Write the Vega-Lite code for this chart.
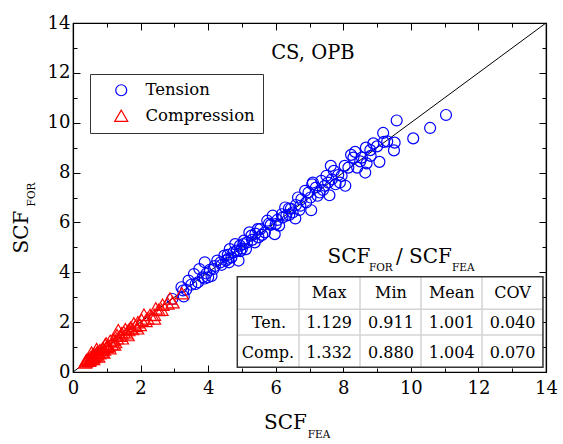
{
  "$schema": "https://vega.github.io/schema/vega-lite/v6.json",
  "width": 473,
  "height": 349,
  "autosize": {"type": "none"},
  "padding": {"left": 73, "top": 23, "right": 17, "bottom": 72},
  "background": "#ffffff",
  "config": {
    "view": {"stroke": "#000000", "strokeWidth": 1.2},
    "axis": {
      "grid": false,
      "domainColor": "#000000",
      "domainWidth": 1.2,
      "tickColor": "#000000",
      "tickWidth": 1,
      "labelFont": "DejaVu Serif",
      "labelFontSize": 18,
      "labelColor": "#000000",
      "labelFlush": false,
      "labelOverlap": false,
      "labelBound": false,
      "titleFont": "DejaVu Serif",
      "titleFontWeight": "normal",
      "titleColor": "#000000",
      "titleAlign": "center",
      "titleBaseline": "alphabetic"
    },
    "legend": {
      "labelFont": "DejaVu Serif",
      "labelFontSize": 16.5,
      "labelColor": "#000000"
    }
  },
  "datasets": {
    "pts": [
      {"scf_fea": 11.04, "scf_for": 10.31, "type": "Tension"},
      {"scf_fea": 10.57, "scf_for": 9.79, "type": "Tension"},
      {"scf_fea": 10.07, "scf_for": 9.37, "type": "Tension"},
      {"scf_fea": 9.58, "scf_for": 10.09, "type": "Tension"},
      {"scf_fea": 9.52, "scf_for": 9.2, "type": "Tension"},
      {"scf_fea": 9.5, "scf_for": 8.89, "type": "Tension"},
      {"scf_fea": 9.18, "scf_for": 9.59, "type": "Tension"},
      {"scf_fea": 9.2, "scf_for": 9.23, "type": "Tension"},
      {"scf_fea": 9.07, "scf_for": 8.43, "type": "Tension"},
      {"scf_fea": 8.89, "scf_for": 9.17, "type": "Tension"},
      {"scf_fea": 8.81, "scf_for": 8.67, "type": "Tension"},
      {"scf_fea": 8.67, "scf_for": 9.0, "type": "Tension"},
      {"scf_fea": 8.65, "scf_for": 8.0, "type": "Tension"},
      {"scf_fea": 8.69, "scf_for": 8.37, "type": "Tension"},
      {"scf_fea": 8.55, "scf_for": 8.6, "type": "Tension"},
      {"scf_fea": 8.41, "scf_for": 8.2, "type": "Tension"},
      {"scf_fea": 8.35, "scf_for": 8.83, "type": "Tension"},
      {"scf_fea": 8.23, "scf_for": 8.71, "type": "Tension"},
      {"scf_fea": 8.06, "scf_for": 7.47, "type": "Tension"},
      {"scf_fea": 8.04, "scf_for": 8.27, "type": "Tension"},
      {"scf_fea": 7.95, "scf_for": 7.87, "type": "Tension"},
      {"scf_fea": 7.77, "scf_for": 7.53, "type": "Tension"},
      {"scf_fea": 7.72, "scf_for": 8.07, "type": "Tension"},
      {"scf_fea": 7.63, "scf_for": 8.27, "type": "Tension"},
      {"scf_fea": 7.66, "scf_for": 7.73, "type": "Tension"},
      {"scf_fea": 7.59, "scf_for": 7.09, "type": "Tension"},
      {"scf_fea": 7.45, "scf_for": 7.47, "type": "Tension"},
      {"scf_fea": 7.5, "scf_for": 7.87, "type": "Tension"},
      {"scf_fea": 7.35, "scf_for": 7.67, "type": "Tension"},
      {"scf_fea": 7.24, "scf_for": 7.07, "type": "Tension"},
      {"scf_fea": 7.19, "scf_for": 7.4, "type": "Tension"},
      {"scf_fea": 7.08, "scf_for": 7.53, "type": "Tension"},
      {"scf_fea": 7.05, "scf_for": 6.49, "type": "Tension"},
      {"scf_fea": 7.03, "scf_for": 7.0, "type": "Tension"},
      {"scf_fea": 6.97, "scf_for": 7.2, "type": "Tension"},
      {"scf_fea": 6.87, "scf_for": 7.27, "type": "Tension"},
      {"scf_fea": 6.76, "scf_for": 6.93, "type": "Tension"},
      {"scf_fea": 6.73, "scf_for": 6.67, "type": "Tension"},
      {"scf_fea": 6.66, "scf_for": 7.0, "type": "Tension"},
      {"scf_fea": 6.58, "scf_for": 6.16, "type": "Tension"},
      {"scf_fea": 6.5, "scf_for": 6.4, "type": "Tension"},
      {"scf_fea": 6.39, "scf_for": 6.56, "type": "Tension"},
      {"scf_fea": 6.31, "scf_for": 6.27, "type": "Tension"},
      {"scf_fea": 6.28, "scf_for": 6.6, "type": "Tension"},
      {"scf_fea": 6.18, "scf_for": 6.33, "type": "Tension"},
      {"scf_fea": 6.1, "scf_for": 5.87, "type": "Tension"},
      {"scf_fea": 6.0, "scf_for": 5.93, "type": "Tension"},
      {"scf_fea": 5.97, "scf_for": 5.53, "type": "Tension"},
      {"scf_fea": 5.91, "scf_for": 6.27, "type": "Tension"},
      {"scf_fea": 5.75, "scf_for": 6.07, "type": "Tension"},
      {"scf_fea": 5.68, "scf_for": 5.6, "type": "Tension"},
      {"scf_fea": 5.54, "scf_for": 5.73, "type": "Tension"},
      {"scf_fea": 5.49, "scf_for": 5.4, "type": "Tension"},
      {"scf_fea": 5.47, "scf_for": 5.73, "type": "Tension"},
      {"scf_fea": 5.38, "scf_for": 5.2, "type": "Tension"},
      {"scf_fea": 5.28, "scf_for": 5.47, "type": "Tension"},
      {"scf_fea": 5.22, "scf_for": 5.6, "type": "Tension"},
      {"scf_fea": 5.12, "scf_for": 4.93, "type": "Tension"},
      {"scf_fea": 5.06, "scf_for": 5.27, "type": "Tension"},
      {"scf_fea": 5.04, "scf_for": 5.13, "type": "Tension"},
      {"scf_fea": 4.94, "scf_for": 5.07, "type": "Tension"},
      {"scf_fea": 4.9, "scf_for": 4.47, "type": "Tension"},
      {"scf_fea": 4.85, "scf_for": 4.87, "type": "Tension"},
      {"scf_fea": 4.8, "scf_for": 5.13, "type": "Tension"},
      {"scf_fea": 4.69, "scf_for": 4.6, "type": "Tension"},
      {"scf_fea": 4.64, "scf_for": 4.93, "type": "Tension"},
      {"scf_fea": 4.53, "scf_for": 4.47, "type": "Tension"},
      {"scf_fea": 4.48, "scf_for": 4.67, "type": "Tension"},
      {"scf_fea": 4.37, "scf_for": 4.4, "type": "Tension"},
      {"scf_fea": 4.27, "scf_for": 4.47, "type": "Tension"},
      {"scf_fea": 4.16, "scf_for": 4.13, "type": "Tension"},
      {"scf_fea": 4.0, "scf_for": 3.8, "type": "Tension"},
      {"scf_fea": 3.9, "scf_for": 4.4, "type": "Tension"},
      {"scf_fea": 3.84, "scf_for": 3.8, "type": "Tension"},
      {"scf_fea": 3.74, "scf_for": 4.13, "type": "Tension"},
      {"scf_fea": 3.63, "scf_for": 3.53, "type": "Tension"},
      {"scf_fea": 3.58, "scf_for": 3.93, "type": "Tension"},
      {"scf_fea": 3.42, "scf_for": 3.67, "type": "Tension"},
      {"scf_fea": 3.26, "scf_for": 3.27, "type": "Tension"},
      {"scf_fea": 3.21, "scf_for": 3.4, "type": "Tension"},
      {"scf_fea": 3.28, "scf_for": 3.03, "type": "Tension"},
      {"scf_fea": 2.94, "scf_for": 2.93, "type": "Tension"},
      {"scf_fea": 7.1, "scf_for": 7.6, "type": "Tension"},
      {"scf_fea": 7.3, "scf_for": 7.2, "type": "Tension"},
      {"scf_fea": 6.9, "scf_for": 6.8, "type": "Tension"},
      {"scf_fea": 6.6, "scf_for": 6.7, "type": "Tension"},
      {"scf_fea": 6.4, "scf_for": 6.3, "type": "Tension"},
      {"scf_fea": 6.2, "scf_for": 6.2, "type": "Tension"},
      {"scf_fea": 5.85, "scf_for": 5.9, "type": "Tension"},
      {"scf_fea": 5.6, "scf_for": 5.5, "type": "Tension"},
      {"scf_fea": 5.3, "scf_for": 5.3, "type": "Tension"},
      {"scf_fea": 5.15, "scf_for": 5.2, "type": "Tension"},
      {"scf_fea": 4.95, "scf_for": 4.85, "type": "Tension"},
      {"scf_fea": 4.75, "scf_for": 4.8, "type": "Tension"},
      {"scf_fea": 4.6, "scf_for": 4.55, "type": "Tension"},
      {"scf_fea": 4.4, "scf_for": 4.3, "type": "Tension"},
      {"scf_fea": 4.2, "scf_for": 4.25, "type": "Tension"},
      {"scf_fea": 4.05, "scf_for": 4.1, "type": "Tension"},
      {"scf_fea": 3.95, "scf_for": 3.95, "type": "Tension"},
      {"scf_fea": 3.7, "scf_for": 3.6, "type": "Tension"},
      {"scf_fea": 3.5, "scf_for": 3.5, "type": "Tension"},
      {"scf_fea": 3.35, "scf_for": 3.3, "type": "Tension"},
      {"scf_fea": 8.15, "scf_for": 8.2, "type": "Tension"},
      {"scf_fea": 8.5, "scf_for": 8.45, "type": "Tension"},
      {"scf_fea": 8.8, "scf_for": 8.9, "type": "Tension"},
      {"scf_fea": 9.3, "scf_for": 9.25, "type": "Tension"},
      {"scf_fea": 7.85, "scf_for": 7.9, "type": "Tension"},
      {"scf_fea": 7.55, "scf_for": 7.6, "type": "Tension"},
      {"scf_fea": 6.45, "scf_for": 6.55, "type": "Tension"},
      {"scf_fea": 5.8, "scf_for": 5.95, "type": "Tension"},
      {"scf_fea": 5.4, "scf_for": 5.55, "type": "Tension"},
      {"scf_fea": 4.58, "scf_for": 4.7, "type": "Tension"},
      {"scf_fea": 4.1, "scf_for": 3.85, "type": "Tension"},
      {"scf_fea": 3.9, "scf_for": 3.75, "type": "Tension"},
      {"scf_fea": 4.62, "scf_for": 4.4, "type": "Tension"},
      {"scf_fea": 5.0, "scf_for": 4.95, "type": "Tension"},
      {"scf_fea": 6.05, "scf_for": 6.1, "type": "Tension"},
      {"scf_fea": 6.7, "scf_for": 6.5, "type": "Tension"},
      {"scf_fea": 7.4, "scf_for": 7.3, "type": "Tension"},
      {"scf_fea": 7.9, "scf_for": 7.6, "type": "Tension"},
      {"scf_fea": 8.3, "scf_for": 8.6, "type": "Tension"},
      {"scf_fea": 9.0, "scf_for": 9.05, "type": "Tension"},
      {"scf_fea": 3.22, "scf_for": 3.16, "type": "Compression"},
      {"scf_fea": 2.87, "scf_for": 2.95, "type": "Compression"},
      {"scf_fea": 2.8, "scf_for": 2.75, "type": "Compression"},
      {"scf_fea": 2.65, "scf_for": 2.7, "type": "Compression"},
      {"scf_fea": 2.53, "scf_for": 2.49, "type": "Compression"},
      {"scf_fea": 2.45, "scf_for": 2.55, "type": "Compression"},
      {"scf_fea": 2.4, "scf_for": 2.3, "type": "Compression"},
      {"scf_fea": 2.28, "scf_for": 2.29, "type": "Compression"},
      {"scf_fea": 2.2, "scf_for": 2.15, "type": "Compression"},
      {"scf_fea": 2.1, "scf_for": 2.3, "type": "Compression"},
      {"scf_fea": 2.03, "scf_for": 2.09, "type": "Compression"},
      {"scf_fea": 1.98, "scf_for": 1.89, "type": "Compression"},
      {"scf_fea": 1.92, "scf_for": 2.0, "type": "Compression"},
      {"scf_fea": 1.85, "scf_for": 1.85, "type": "Compression"},
      {"scf_fea": 1.8, "scf_for": 1.95, "type": "Compression"},
      {"scf_fea": 1.75, "scf_for": 1.72, "type": "Compression"},
      {"scf_fea": 1.7, "scf_for": 1.78, "type": "Compression"},
      {"scf_fea": 1.64, "scf_for": 1.68, "type": "Compression"},
      {"scf_fea": 1.58, "scf_for": 1.55, "type": "Compression"},
      {"scf_fea": 1.5, "scf_for": 1.6, "type": "Compression"},
      {"scf_fea": 1.44, "scf_for": 1.55, "type": "Compression"},
      {"scf_fea": 1.4, "scf_for": 1.45, "type": "Compression"},
      {"scf_fea": 1.34, "scf_for": 1.68, "type": "Compression"},
      {"scf_fea": 1.3, "scf_for": 1.35, "type": "Compression"},
      {"scf_fea": 1.25, "scf_for": 1.2, "type": "Compression"},
      {"scf_fea": 1.19, "scf_for": 1.28, "type": "Compression"},
      {"scf_fea": 1.15, "scf_for": 1.12, "type": "Compression"},
      {"scf_fea": 1.1, "scf_for": 1.25, "type": "Compression"},
      {"scf_fea": 1.05, "scf_for": 1.05, "type": "Compression"},
      {"scf_fea": 1.0, "scf_for": 1.01, "type": "Compression"},
      {"scf_fea": 0.95, "scf_for": 1.1, "type": "Compression"},
      {"scf_fea": 0.92, "scf_for": 0.9, "type": "Compression"},
      {"scf_fea": 0.88, "scf_for": 0.95, "type": "Compression"},
      {"scf_fea": 0.85, "scf_for": 0.82, "type": "Compression"},
      {"scf_fea": 0.8, "scf_for": 0.88, "type": "Compression"},
      {"scf_fea": 0.78, "scf_for": 0.75, "type": "Compression"},
      {"scf_fea": 0.72, "scf_for": 0.8, "type": "Compression"},
      {"scf_fea": 0.7, "scf_for": 0.75, "type": "Compression"},
      {"scf_fea": 0.68, "scf_for": 0.66, "type": "Compression"},
      {"scf_fea": 0.65, "scf_for": 0.7, "type": "Compression"},
      {"scf_fea": 0.62, "scf_for": 0.6, "type": "Compression"},
      {"scf_fea": 0.6, "scf_for": 0.61, "type": "Compression"},
      {"scf_fea": 0.58, "scf_for": 0.68, "type": "Compression"},
      {"scf_fea": 0.55, "scf_for": 0.55, "type": "Compression"},
      {"scf_fea": 0.52, "scf_for": 0.58, "type": "Compression"},
      {"scf_fea": 0.5, "scf_for": 0.5, "type": "Compression"},
      {"scf_fea": 0.48, "scf_for": 0.45, "type": "Compression"},
      {"scf_fea": 0.45, "scf_for": 0.52, "type": "Compression"},
      {"scf_fea": 0.42, "scf_for": 0.48, "type": "Compression"},
      {"scf_fea": 0.4, "scf_for": 0.48, "type": "Compression"},
      {"scf_fea": 0.38, "scf_for": 0.42, "type": "Compression"},
      {"scf_fea": 0.36, "scf_for": 0.38, "type": "Compression"},
      {"scf_fea": 0.6, "scf_for": 0.52, "type": "Compression"},
      {"scf_fea": 0.75, "scf_for": 0.62, "type": "Compression"},
      {"scf_fea": 0.9, "scf_for": 0.78, "type": "Compression"},
      {"scf_fea": 1.08, "scf_for": 0.95, "type": "Compression"},
      {"scf_fea": 1.22, "scf_for": 1.1, "type": "Compression"},
      {"scf_fea": 1.45, "scf_for": 1.35, "type": "Compression"},
      {"scf_fea": 1.62, "scf_for": 1.48, "type": "Compression"},
      {"scf_fea": 1.9, "scf_for": 1.75, "type": "Compression"},
      {"scf_fea": 2.15, "scf_for": 2.05, "type": "Compression"},
      {"scf_fea": 2.4, "scf_for": 2.15, "type": "Compression"},
      {"scf_fea": 2.62, "scf_for": 2.5, "type": "Compression"},
      {"scf_fea": 2.95, "scf_for": 2.8, "type": "Compression"},
      {"scf_fea": 1.3, "scf_for": 1.48, "type": "Compression"},
      {"scf_fea": 1.55, "scf_for": 1.72, "type": "Compression"},
      {"scf_fea": 0.98, "scf_for": 1.15, "type": "Compression"},
      {"scf_fea": 0.7, "scf_for": 0.92, "type": "Compression"},
      {"scf_fea": 0.55, "scf_for": 0.78, "type": "Compression"}
    ],
    "diag": [
      {"scf_fea": 0, "scf_for": 0},
      {"scf_fea": 14, "scf_for": 14}
    ],
    "box": [
      {"x": 4.863, "x2": 13.91, "y": 0.189, "y2": 3.823}
    ],
    "gridlines": [
      {"x": 6.689, "x2": 6.689, "y": 0.189, "y2": 3.823},
      {"x": 8.495, "x2": 8.495, "y": 0.189, "y2": 3.823},
      {"x": 10.3, "x2": 10.3, "y": 0.189, "y2": 3.823},
      {"x": 12.106, "x2": 12.106, "y": 0.189, "y2": 3.823},
      {"x": 4.863, "x2": 13.91, "y": 2.515, "y2": 2.515},
      {"x": 4.863, "x2": 13.91, "y": 1.484, "y2": 1.484}
    ],
    "cells": [
      {"text": "Max", "cx": 7.58, "cy": 2.956},
      {"text": "Min", "cx": 9.41, "cy": 2.956},
      {"text": "Mean", "cx": 11.21, "cy": 2.956},
      {"text": "COV", "cx": 13.01, "cy": 2.956},
      {"text": "Ten.", "cx": 5.8, "cy": 1.777},
      {"text": "1.129", "cx": 7.58, "cy": 1.777},
      {"text": "0.911", "cx": 9.41, "cy": 1.777},
      {"text": "1.001", "cx": 11.21, "cy": 1.777},
      {"text": "0.040", "cx": 13.01, "cy": 1.777},
      {"text": "Comp.", "cx": 5.77, "cy": 0.574},
      {"text": "1.332", "cx": 7.58, "cy": 0.574},
      {"text": "0.880", "cx": 9.41, "cy": 0.574},
      {"text": "1.004", "cx": 11.21, "cy": 0.574},
      {"text": "0.070", "cx": 13.01, "cy": 0.574}
    ],
    "one": [{}]
  },
  "resolve": {"axis": {"x": "independent", "y": "independent"}},
  "layer": [
    {
      "data": {"name": "diag"},
      "mark": {"type": "line", "color": "#000000", "strokeWidth": 1},
      "encoding": {
        "x": {
          "field": "scf_fea", "type": "quantitative",
          "scale": {"domain": [0, 14], "nice": false, "zero": false},
          "axis": {
            "orient": "top",
            "values": [0,1,2,3,4,5,6,7,8,9,10,11,12,13,14],
            "labels": false,
            "tickSize": {"condition": {"test": "datum.value % 2 === 0", "value": -7}, "value": -4},
            "title": "FEA",
            "titleFontSize": 10.5,
            "titleAngle": 0,
            "titleX": 245.5,
            "titleY": 414
          }
        },
        "y": {
          "field": "scf_for", "type": "quantitative",
          "scale": {"domain": [0, 14], "nice": false, "zero": false},
          "axis": {
            "orient": "right",
            "values": [0,1,2,3,4,5,6,7,8,9,10,11,12,13,14],
            "labels": false,
            "tickSize": {"condition": {"test": "datum.value % 2 === 0", "value": -7}, "value": -4},
            "title": "FOR",
            "titleFontSize": 10.5,
            "titleAngle": -90,
            "titleX": -512,
            "titleY": 171
          }
        }
      }
    },
    {
      "data": {"name": "pts"},
      "mark": {"type": "point", "filled": false, "strokeWidth": 1.2, "opacity": 1},
      "encoding": {
        "x": {
          "field": "scf_fea", "type": "quantitative",
          "scale": {"domain": [0, 14], "nice": false, "zero": false},
          "axis": {
            "orient": "bottom",
            "values": [0,1,2,3,4,5,6,7,8,9,10,11,12,13,14],
            "labelExpr": "datum.value % 2 === 0 ? datum.label : ''",
            "tickSize": {"condition": {"test": "datum.value % 2 === 0", "value": -7}, "value": -4},
            "labelPadding": 14,
            "title": "SCF",
            "titleFontSize": 20,
            "titleAngle": 0,
            "titleX": 212,
            "titleY": 56
          }
        },
        "y": {
          "field": "scf_for", "type": "quantitative",
          "scale": {"domain": [0, 14], "nice": false, "zero": false},
          "axis": {
            "orient": "left",
            "values": [0,1,2,3,4,5,6,7,8,9,10,11,12,13,14],
            "labelExpr": "datum.value % 2 === 0 ? datum.label : ''",
            "tickSize": {"condition": {"test": "datum.value % 2 === 0", "value": -7}, "value": -4},
            "labelPadding": 10,
            "title": "SCF",
            "titleFontSize": 20,
            "titleAngle": -90,
            "titleX": -46,
            "titleY": 208.5
          }
        },
        "color": {
          "field": "type", "type": "nominal",
          "scale": {"domain": ["Tension", "Compression"], "range": ["#0000ff", "#ff0000"]},
          "legend": {
            "orient": "none", "legendX": 17, "legendY": 51, "title": null,
            "strokeColor": "#333333", "fillColor": "#ffffff", "padding": 8,
            "symbolOffset": 15, "labelOffset": 16, "rowPadding": 8.5, "symbolStrokeWidth": 1.2
          }
        },
        "shape": {
          "field": "type", "type": "nominal",
          "scale": {"domain": ["Tension", "Compression"], "range": ["circle", "triangle-up"]},
          "legend": {
            "orient": "none", "legendX": 17, "legendY": 51, "title": null,
            "strokeColor": "#333333", "fillColor": "#ffffff", "padding": 8,
            "symbolOffset": 15, "labelOffset": 16, "rowPadding": 8.5, "symbolStrokeWidth": 1.2
          }
        },
        "size": {
          "field": "type", "type": "nominal",
          "scale": {"domain": ["Tension", "Compression"], "range": [120, 170]},
          "legend": {
            "orient": "none", "legendX": 17, "legendY": 51, "title": null,
            "strokeColor": "#333333", "fillColor": "#ffffff", "padding": 8,
            "symbolOffset": 15, "labelOffset": 16, "rowPadding": 8.5, "symbolStrokeWidth": 1.2
          }
        }
      }
    },
    {
      "data": {"name": "box"},
      "mark": {"type": "rect", "fill": "#ffffff", "stroke": null},
      "encoding": {
        "x": {"field": "x", "type": "quantitative", "axis": null, "scale": {"domain": [0, 14], "nice": false, "zero": false}},
        "x2": {"field": "x2"},
        "y": {"field": "y", "type": "quantitative", "axis": null, "scale": {"domain": [0, 14], "nice": false, "zero": false}},
        "y2": {"field": "y2"}
      }
    },
    {
      "data": {"name": "gridlines"},
      "mark": {"type": "rule", "color": "#d4d4d4", "strokeWidth": 1.5},
      "encoding": {
        "x": {"field": "x", "type": "quantitative", "axis": null, "scale": {"domain": [0, 14], "nice": false, "zero": false}},
        "x2": {"field": "x2"},
        "y": {"field": "y", "type": "quantitative", "axis": null, "scale": {"domain": [0, 14], "nice": false, "zero": false}},
        "y2": {"field": "y2"}
      }
    },
    {
      "data": {"name": "box"},
      "mark": {"type": "rect", "fill": null, "fillOpacity": 0, "stroke": "#333333", "strokeWidth": 1.5},
      "encoding": {
        "x": {"field": "x", "type": "quantitative", "axis": null, "scale": {"domain": [0, 14], "nice": false, "zero": false}},
        "x2": {"field": "x2"},
        "y": {"field": "y", "type": "quantitative", "axis": null, "scale": {"domain": [0, 14], "nice": false, "zero": false}},
        "y2": {"field": "y2"}
      }
    },
    {
      "data": {"name": "cells"},
      "mark": {"type": "text", "font": "DejaVu Serif", "fontSize": 16, "color": "#000000", "align": "center", "baseline": "alphabetic"},
      "encoding": {
        "x": {"field": "cx", "type": "quantitative", "axis": null, "scale": {"domain": [0, 14], "nice": false, "zero": false}},
        "y": {"field": "cy", "type": "quantitative", "axis": null, "scale": {"domain": [0, 14], "nice": false, "zero": false}},
        "text": {"field": "text"}
      }
    },
    {
      "data": {"name": "one"},
      "mark": {"type": "text", "font": "DejaVu Serif", "fontSize": 19.5, "color": "#000000", "align": "center", "baseline": "alphabetic", "text": "CS, OPB"},
      "encoding": {
        "x": {"datum": 7.1, "type": "quantitative", "axis": null, "scale": {"domain": [0, 14], "nice": false, "zero": false}},
        "y": {"datum": 12.56, "type": "quantitative", "axis": null, "scale": {"domain": [0, 14], "nice": false, "zero": false}}
      }
    },
    {
      "data": {"name": "one"},
      "mark": {"type": "text", "font": "DejaVu Serif", "fontSize": 20, "color": "#000000", "align": "center", "baseline": "alphabetic", "text": "SCF"},
      "encoding": {
        "x": {"datum": 8.17, "type": "quantitative", "axis": null, "scale": {"domain": [0, 14], "nice": false, "zero": false}},
        "y": {"datum": 4.38, "type": "quantitative", "axis": null, "scale": {"domain": [0, 14], "nice": false, "zero": false}}
      }
    },
    {
      "data": {"name": "one"},
      "mark": {"type": "text", "font": "DejaVu Serif", "fontSize": 10.5, "color": "#000000", "align": "left", "baseline": "alphabetic", "text": "FOR"},
      "encoding": {
        "x": {"datum": 8.76, "type": "quantitative", "axis": null, "scale": {"domain": [0, 14], "nice": false, "zero": false}},
        "y": {"datum": 4.06, "type": "quantitative", "axis": null, "scale": {"domain": [0, 14], "nice": false, "zero": false}}
      }
    },
    {
      "data": {"name": "one"},
      "mark": {"type": "text", "font": "DejaVu Serif", "fontSize": 20, "color": "#000000", "align": "left", "baseline": "alphabetic", "text": "/ SCF"},
      "encoding": {
        "x": {"datum": 9.56, "type": "quantitative", "axis": null, "scale": {"domain": [0, 14], "nice": false, "zero": false}},
        "y": {"datum": 4.38, "type": "quantitative", "axis": null, "scale": {"domain": [0, 14], "nice": false, "zero": false}}
      }
    },
    {
      "data": {"name": "one"},
      "mark": {"type": "text", "font": "DejaVu Serif", "fontSize": 10.5, "color": "#000000", "align": "left", "baseline": "alphabetic", "text": "FEA"},
      "encoding": {
        "x": {"datum": 11.22, "type": "quantitative", "axis": null, "scale": {"domain": [0, 14], "nice": false, "zero": false}},
        "y": {"datum": 4.06, "type": "quantitative", "axis": null, "scale": {"domain": [0, 14], "nice": false, "zero": false}}
      }
    }
  ]
}
